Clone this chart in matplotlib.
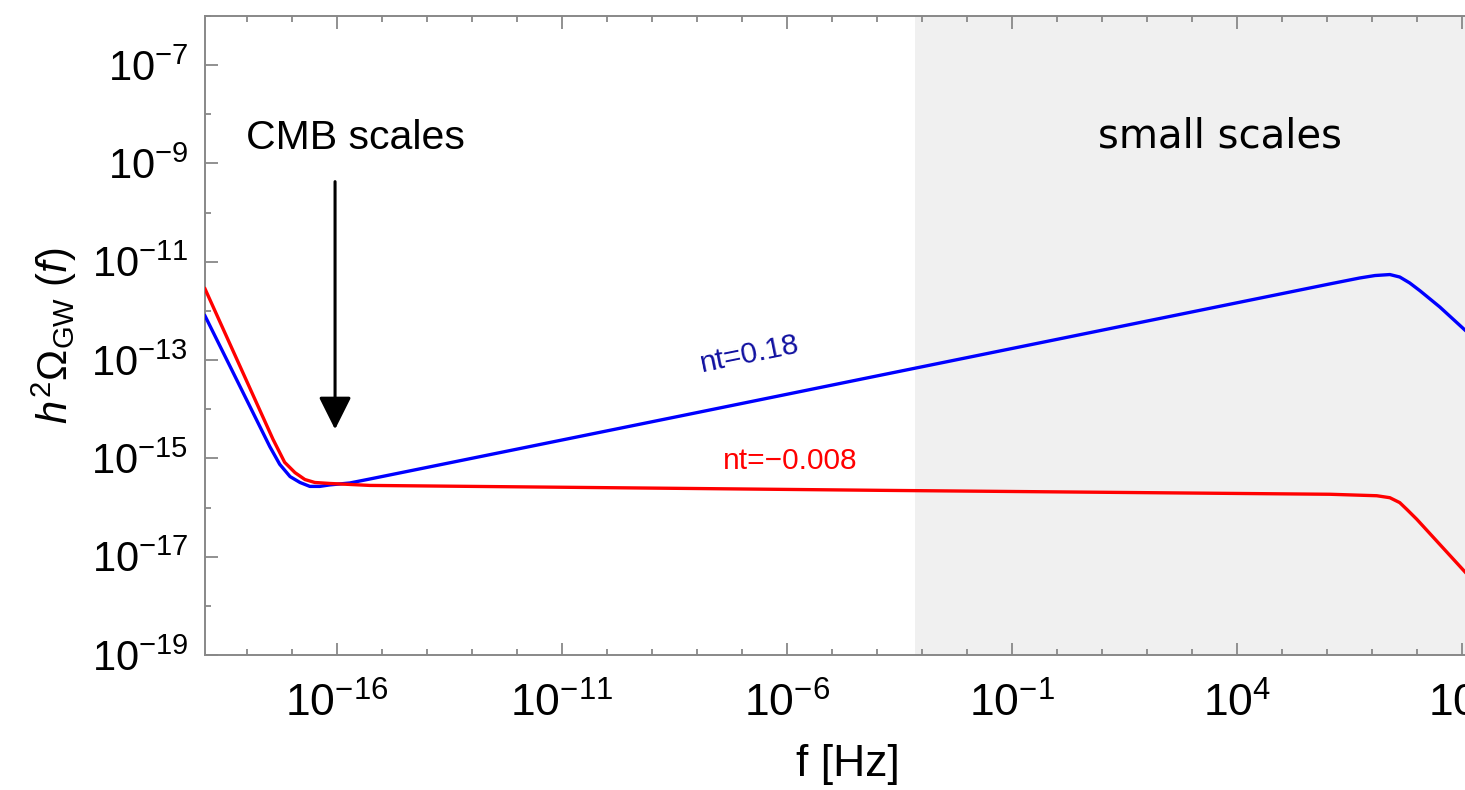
import numpy as np
import matplotlib.pyplot as plt
from matplotlib.ticker import FixedLocator, FuncFormatter, NullFormatter

# curves, stored as log10 values
blue_logf = [-18.93, -17.49, -17.27, -17.04, -16.82, -16.60, -16.38, -16.16, -15.71,
             -15.27, -8.38, -3.93, 6.07, 6.73, 7.07, 7.40, 7.62, 7.84, 8.07, 8.51, 9.07]
blue_logomega = [-12.10, -14.76, -15.12, -15.37, -15.49, -15.57, -15.57, -15.54, -15.50,
                 -15.42, -14.14, -13.31, -11.45, -11.33, -11.28, -11.26, -11.31, -11.43,
                 -11.59, -11.92, -12.39]

red_logf = [-18.93, -17.42, -17.16, -16.93, -16.71, -16.49, -16.16, -15.27,
            -8.38, -3.93, 6.07, 7.11, 7.40, 7.62, 7.78, 8.00, 9.07]
red_logomega = [-11.55, -14.61, -15.08, -15.29, -15.43, -15.49, -15.51, -15.55,
                -15.61, -15.65, -15.73, -15.76, -15.80, -15.90, -16.04, -16.24, -17.31]

x_major_exp = [-16, -11, -6, -1, 4, 9]
x_minor_exp = list(range(-19, 10))
y_major_exp = [-19, -17, -15, -13, -11, -9, -7]
y_minor_exp = list(range(-19, -5))

x_range_exp = (-18.93, 9.07)
y_range_exp = (-19, -6)
small_scales_start_exp = -3.16

plt.rcParams["font.family"] = ["Liberation Sans", "DejaVu Sans"]
plt.rcParams["mathtext.fontset"] = "custom"
plt.rcParams["mathtext.rm"] = "Liberation Sans"
plt.rcParams["mathtext.it"] = "Liberation Sans:italic"

fig = plt.figure(figsize=(14.65, 7.9), dpi=100)
ax = fig.add_axes([205 / 1465, 1 - 655 / 790, 1 - 205 / 1465, (655 - 16) / 790])
ax.set_xscale("log")
ax.set_yscale("log")

xlo, xhi = 10.0 ** x_range_exp[0], 10.0 ** x_range_exp[1]
ax.axvspan(10.0 ** small_scales_start_exp, xhi, color="#f0f0f0", zorder=0, lw=0)

ax.plot(10.0 ** np.array(blue_logf), 10.0 ** np.array(blue_logomega),
        color="#0000ff", lw=2.4, solid_joinstyle="round", zorder=3)
ax.plot(10.0 ** np.array(red_logf), 10.0 ** np.array(red_logomega),
        color="#ff0000", lw=2.4, solid_joinstyle="round", zorder=3)

ax.set_xlim(xlo, xhi)
ax.set_ylim(10.0 ** y_range_exp[0], 10.0 ** y_range_exp[1])

# ticks
ax.xaxis.set_major_locator(FixedLocator([10.0 ** e for e in x_major_exp]))
ax.xaxis.set_minor_locator(FixedLocator([10.0 ** e for e in x_minor_exp]))
ax.yaxis.set_major_locator(FixedLocator([10.0 ** e for e in y_major_exp]))
ax.yaxis.set_minor_locator(FixedLocator([10.0 ** e for e in y_minor_exp]))
ax.xaxis.set_minor_formatter(NullFormatter())
ax.yaxis.set_minor_formatter(NullFormatter())
pow_fmt = FuncFormatter(lambda v, p: r"$\mathregular{10^{%d}}$" % round(np.log10(v)))
ax.xaxis.set_major_formatter(pow_fmt)
ax.yaxis.set_major_formatter(pow_fmt)

ax.tick_params(which="both", direction="in", top=True, right=False,
               color="#909090", width=1.4)
ax.tick_params(which="major", length=9)
ax.tick_params(which="minor", length=4.5)
ax.tick_params(axis="y", which="major", labelsize=30, pad=12)
ax.tick_params(axis="x", which="major", labelsize=32, pad=20)

for side in ["left", "bottom", "top"]:
    ax.spines[side].set_color("#888888")
    ax.spines[side].set_linewidth(1.4)
ax.spines["right"].set_visible(False)

ax.set_xlabel("f [Hz]", fontsize=32)
ax.xaxis.set_label_coords(0.51, -0.14)
ax.set_ylabel(r"$h^2\Omega_{\mathrm{GW}}\ (f)$", fontsize=30)
ax.yaxis.set_label_coords(-0.1, 0.5)

# annotations
ax.text(10.0 ** -15.58, 10.0 ** -8.49, "CMB scales", fontsize=29.5,
        ha="center", va="center")
ax.text(10.0 ** 3.62, 10.0 ** -8.45, "small scales", fontsize=29,
        ha="center", va="center", family="DejaVu Sans")
ax.annotate("", xy=(10.0 ** -16.04, 10.0 ** -14.41), xytext=(10.0 ** -16.04, 10.0 ** -9.37),
            arrowprops=dict(arrowstyle="-|>,head_length=1.0,head_width=0.5",
                            mutation_scale=20, lw=2.2, color="black",
                            shrinkA=0, shrinkB=0))
ax.text(10.0 ** -6.82, 10.0 ** -12.88, "nt=0.18", fontsize=21.5, color="#1010a0",
        ha="center", va="center", rotation=11.5)
ax.text(10.0 ** -5.93, 10.0 ** -15.06, "nt=\u22120.008", fontsize=21.5, color="#ff0000",
        ha="center", va="center")

fig.savefig("out.png", dpi=100)
